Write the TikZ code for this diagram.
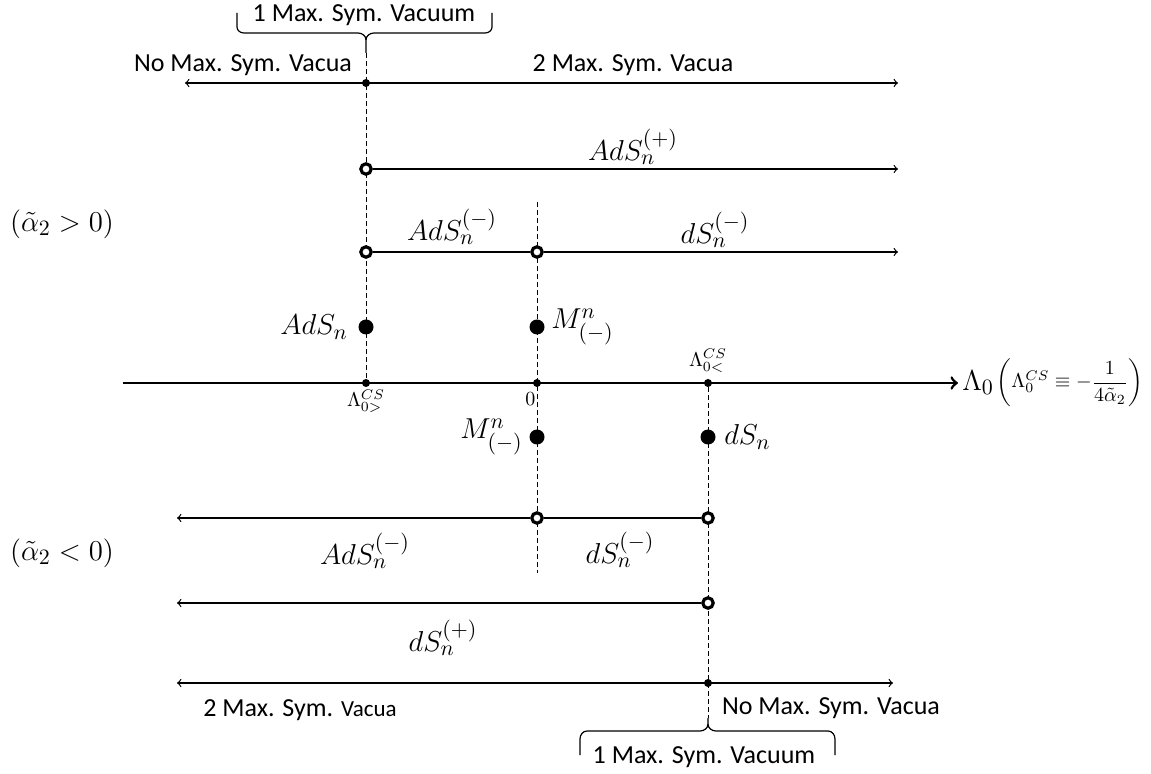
\documentclass[tikz,border=0pt]{standalone}
\usepackage{amsmath}
\usepackage{fontspec}
\newfontfamily\calib{Carlito}
\usetikzlibrary{positioning,backgrounds}

\tikzset{
  opendot/.style={circle,draw,line width=1.6pt,fill=white,inner sep=0pt,minimum size=5.2pt},
  fulldot/.style={circle,fill,inner sep=0pt,minimum size=7.5pt},
  tickdot/.style={circle,fill,inner sep=0pt,minimum size=4pt},
  guideline/.style={line width=0.5pt,dash pattern=on 2.5pt off 1.5pt},
  rangeline/.style={line width=0.6pt},
  vac/.style={font=\calib\fontsize{13}{15}\selectfont},
  lbl/.style={font=\fontsize{15}{18}\selectfont,inner sep=2pt},
  ticklbl/.style={font=\fontsize{10}{12}\selectfont,inner sep=1pt}
}

\begin{document}
\begin{tikzpicture}[x=0.5pt,y=-0.5pt]
    \useasboundingbox (0,0) rectangle (1151,774);

    % the Lambda_0 axis
    \node[tickdot] (csg) at (366,383) {};
    \node[tickdot] (zero) at (537,383) {};
    \node[tickdot] (csl) at (708,383) {};
    \coordinate (axL) at (123,383);
    \coordinate (axR) at (958,383);
    \draw[line width=1.4pt,->] (axL) -- (axR);
    \node[lbl,right=0pt of axR] (lam) {$\Lambda_0$};
    \node[right=-2pt of lam,inner sep=1pt,font=\fontsize{10}{12}\selectfont] (lamdef) {$\left(\Lambda_0^{CS}\equiv-\dfrac{1}{4\tilde{\alpha}_2}\right)$};
    \node[ticklbl,below=0pt of csg] (csglbl) {$\Lambda^{CS}_{0>}$};
    \node[ticklbl,below left=2pt and -2pt of zero] (zerolbl) {$0$};
    \node[ticklbl,above=2pt of csl] (csllbl) {$\Lambda^{CS}_{0<}$};

    % alpha_2 > 0
    \node[tickdot] (t1) at (366,83) {};
    \coordinate (r1L) at (185,83);
    \coordinate (r1R) at (898,83);
    \draw[rangeline,<->] (r1L) -- (r1R);
    \node[opendot] (o2) at (366,169) {};
    \coordinate (r2R) at (898,169);
    \draw[rangeline,->] (o2) -- (r2R);
    \node[opendot] (o3a) at (366,252) {};
    \node[opendot] (o3b) at (537,252) {};
    \coordinate (r3R) at (898,252);
    \draw[rangeline] (o3a) -- (o3b);
    \draw[rangeline,->] (o3b) -- (r3R);
    \node[fulldot] (adsp) at (366,327) {};
    \node[fulldot] (mp) at (537,327) {};

    % alpha_2 < 0
    \node[fulldot] (mm) at (537,437) {};
    \node[fulldot] (dsp) at (708,437) {};
    \node[opendot] (o4a) at (537,518) {};
    \node[opendot] (o4b) at (708,518) {};
    \coordinate (r4L) at (177,518);
    \draw[rangeline] (o4b) -- (o4a);
    \draw[rangeline,->] (o4a) -- (r4L);
    \node[opendot] (o5) at (708,603) {};
    \coordinate (r5L) at (177,603);
    \draw[rangeline,->] (o5) -- (r5L);
    \node[tickdot] (t6) at (708,683) {};
    \coordinate (r6L) at (177,683);
    \coordinate (r6R) at (893,683);
    \draw[rangeline,<->] (r6L) -- (r6R);

    % dashed guides
    \coordinate (tiptop) at (366,53);
    \coordinate (g0top) at (537,202);
    \coordinate (g0bot) at (537,573);
    \coordinate (tipbot) at (708,718);
    \begin{scope}[on background layer]
        \draw[guideline] (tiptop) -- (csg);
        \draw[guideline] (g0top) -- (g0bot);
        \draw[guideline] (csl) -- (tipbot);
    \end{scope}

    % braces
    \draw[rangeline] (237,13) -- (237,27) to[out=-90,in=180] (244,33) -- (358,33) to[out=0,in=90] (366,40) -- (tiptop);
    \draw[rangeline] (492,13) -- (492,27) to[out=-90,in=0] (485,33) -- (374,33) to[out=180,in=90] (366,40);
    \draw[rangeline] (580,755) -- (580,739) to[out=90,in=180] (587,731) -- (700,731) to[out=0,in=-90] (708,724) -- (tipbot);
    \draw[rangeline] (835,755) -- (835,739) to[out=90,in=0] (828,731) -- (716,731) to[out=180,in=-90] (708,724);

    % texts
    \node[vac] (onetop) at (364,15) {1 Max. Sym. Vacuum};
    \node[vac] (notop) at (243,65) {No Max. Sym. Vacua};
    \node[vac] (twotop) at (633,65) {2 Max. Sym. Vacua};
    \node[vac] (twobot) at (300,710) {2 Max. Sym. {\fontsize{11.5}{14}\selectfont Vacua}};
    \node[vac] (nobot) at (831,708) {No Max. Sym. Vacua};
    \node[vac] (onebot) at (704,757) {1 Max. Sym. Vacuum};

    \node[lbl] (agt) at (62,224) {$(\tilde{\alpha}_2>0)$};
    \node[lbl] (alt) at (62,553) {$(\tilde{\alpha}_2<0)$};
    \node[lbl] (adsplus) at (633,147) {$AdS_n^{(+)}$};
    \node[lbl] (adsmin) at (452,227) {$AdS_n^{(-)}$};
    \node[lbl] (dsmin) at (715,230) {$dS_n^{(-)}$};
    \node[lbl,left=3pt of adsp] (adslbl) {$AdS_n$};
    \node[lbl,right=1pt of mp] (mplbl) {$M^n_{(-)}$};
    \node[lbl,left=1pt of mm] (mmlbl) {$M^n_{(-)}$};
    \node[lbl,right=2pt of dsp] (dslbl) {$dS_n$};
    \node[lbl] (adsmin2) at (365,551) {$AdS_n^{(-)}$};
    \node[lbl] (dsmin2) at (620,550) {$dS_n^{(-)}$};
    \node[lbl] (dsplus) at (443,638) {$dS_n^{(+)}$};
\end{tikzpicture}
\end{document}
